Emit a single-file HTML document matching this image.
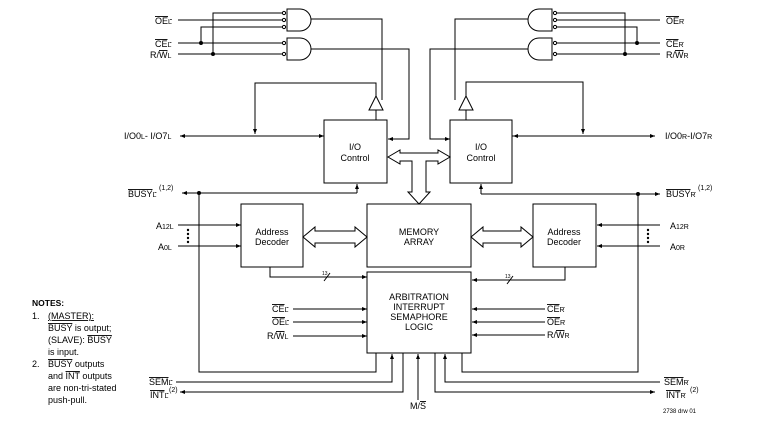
<!DOCTYPE html>
<html><head><style>
body{margin:0;background:#fff}
svg{display:block}
text{font-family:"Liberation Sans",sans-serif;fill:#000}
.ov{text-decoration:overline}
</style></head><body>
<svg width="764" height="438" viewBox="0 0 764 438" xmlns="http://www.w3.org/2000/svg" font-size="9">
<defs>
<marker id="a" viewBox="0 0 10 10" refX="10" refY="5" markerWidth="6" markerHeight="5" orient="auto"><path d="M0,1 L10,5 L0,9 z" fill="#000"/></marker>
</defs>
<g stroke="#000" stroke-width="1" fill="none">
<path d="M287,9 H300 A11,11 0 0 1 300,31 H287 Z"/>
<path d="M287,38 H300 A11,11 0 0 1 300,60 H287 Z"/>
<circle cx="284" cy="13" r="1.6"/><circle cx="284" cy="20" r="1.6"/><circle cx="284" cy="27" r="1.6"/>
<circle cx="284" cy="43" r="1.6"/><circle cx="284" cy="54" r="1.6"/>
<path d="M178,20 H282 M178,43 H282 M178,54 H282 M213,54 V13 H282 M201,43 V27 H282"/>
<path d="M311,19 H382 V100"/>
<path d="M311,49 H409 V139 H388" marker-end="url(#a)"/>
<path d="M369,110 L376,96 L383,110 Z"/>
<path d="M376,96 V83 H255 V134" marker-end="url(#a)"/>
<path d="M376,110 V120"/>
<path d="M324,136 H180" marker-end="url(#a)"/>
<path d="M255,136 H324" marker-end="url(#a)"/>
<rect x="324" y="120" width="63" height="63"/>
<path d="M357,193 V184" marker-end="url(#a)"/>
<path d="M357,193 H182" marker-end="url(#a)"/>
<path d="M552,9 H539 A11,11 0 0 0 539,31 H552 Z"/>
<path d="M552,38 H539 A11,11 0 0 0 539,60 H552 Z"/>
<circle cx="555" cy="13" r="1.6"/><circle cx="555" cy="20" r="1.6"/><circle cx="555" cy="27" r="1.6"/>
<circle cx="555" cy="43" r="1.6"/><circle cx="555" cy="54" r="1.6"/>
<path d="M557,20 H660 M557,43 H660 M557,54 H660 M625,54 V13 H557 M637,43 V27 H557"/>
<path d="M528,19 H455 V100"/>
<path d="M528,49 H430 V139 H450" marker-end="url(#a)"/>
<path d="M459,110 L466,96 L473,110 Z"/>
<path d="M466,96 V82 H583 V134" marker-end="url(#a)"/>
<path d="M466,110 V120"/>
<path d="M512,136 H655" marker-end="url(#a)"/>
<path d="M583,136 H513" marker-end="url(#a)"/>
<rect x="450" y="120" width="62" height="63"/>
<path d="M481,194 V184" marker-end="url(#a)"/>
<path d="M481,194 H660" marker-end="url(#a)"/>
<path d="M388,157 L400,150 V153 H438 V150 L450,157 L438,164 V161 H426 V192 H430 L419,204 L408,192 H412 V161 H400 V164 Z"/>
<path d="M303,237 L315,227 V231 H355 V227 L367,237 L355,247 V243 H315 V247 Z"/>
<path d="M471,237 L483,227 V231 H521 V227 L533,237 L521,247 V243 H483 V247 Z"/>
<rect x="367" y="204" width="104" height="63"/>
<rect x="367" y="272" width="104" height="81"/>
<rect x="241" y="204" width="62" height="63"/>
<rect x="533" y="204" width="63" height="63"/>
<path d="M178,225 H241" marker-end="url(#a)"/>
<path d="M178,246 H241" marker-end="url(#a)"/>
<path d="M660,225 H597" marker-end="url(#a)"/>
<path d="M660,246 H597" marker-end="url(#a)"/>
<path d="M270,267 V277 H367" marker-end="url(#a)"/>
<path d="M565,267 V280 H472" marker-end="url(#a)"/>
<path d="M324,281 L330,273 M507,284 L513,276"/>
<path d="M293,309 H367" marker-end="url(#a)"/>
<path d="M293,322 H367" marker-end="url(#a)"/>
<path d="M293,336 H367" marker-end="url(#a)"/>
<path d="M545,309 H472" marker-end="url(#a)"/>
<path d="M545,322 H472" marker-end="url(#a)"/>
<path d="M545,335 H472" marker-end="url(#a)"/>
<path d="M199,193 V372 H376 V353"/>
<path d="M638,194 V372 H462 V353"/>
<path d="M176,382 H392 V354" marker-end="url(#a)"/>
<path d="M403,353 V392 H180" marker-end="url(#a)"/>
<path d="M418,400 V354" marker-end="url(#a)"/>
<path d="M435,353 V392 H655" marker-end="url(#a)"/>
<path d="M660,382 H445 V354" marker-end="url(#a)"/>
</g>
<g fill="#000">
<circle cx="213" cy="54" r="2"/><circle cx="201" cy="43" r="2"/>
<circle cx="625" cy="54" r="2"/><circle cx="637" cy="43" r="2"/>
<circle cx="199" cy="193" r="2"/><circle cx="638" cy="194" r="2"/>
<circle cx="188" cy="230" r="1.2"/><circle cx="188" cy="234" r="1.2"/><circle cx="188" cy="238" r="1.2"/><circle cx="188" cy="242" r="1.2"/>
<circle cx="648" cy="230" r="1.2"/><circle cx="648" cy="234" r="1.2"/><circle cx="648" cy="238" r="1.2"/><circle cx="648" cy="242" r="1.2"/>
</g>
<text x="155" y="24" class="ov">OE<tspan font-size="7">L</tspan></text>
<text x="155" y="47" class="ov">CE<tspan font-size="7">L</tspan></text>
<text x="150" y="58">R/<tspan class="ov">W</tspan><tspan font-size="7">L</tspan></text>
<text x="666" y="24" class="ov">OE<tspan font-size="7">R</tspan></text>
<text x="666" y="47" class="ov">CE<tspan font-size="7">R</tspan></text>
<text x="666" y="58">R/<tspan class="ov">W</tspan><tspan font-size="7">R</tspan></text>
<text x="124" y="139">I/O0<tspan font-size="7">L</tspan>- I/O7<tspan font-size="7">L</tspan></text>
<text x="665" y="139">I/O0<tspan font-size="7">R</tspan>-I/O7<tspan font-size="7">R</tspan></text>
<text x="355" y="150" text-anchor="middle">I/O</text>
<text x="355" y="161" text-anchor="middle">Control</text>
<text x="481" y="150" text-anchor="middle">I/O</text>
<text x="481" y="161" text-anchor="middle">Control</text>
<text x="128" y="197" class="ov">BUSY<tspan font-size="7">L</tspan></text>
<text x="159" y="190" font-size="7">(1,2)</text>
<text x="666" y="197" class="ov">BUSY<tspan font-size="7">R</tspan></text>
<text x="698" y="190" font-size="7">(1,2)</text>
<text x="272" y="235" text-anchor="middle">Address</text>
<text x="272" y="245" text-anchor="middle">Decoder</text>
<text x="564" y="235" text-anchor="middle">Address</text>
<text x="564" y="245" text-anchor="middle">Decoder</text>
<text x="419" y="235" text-anchor="middle">MEMORY</text>
<text x="419" y="245" text-anchor="middle">ARRAY</text>
<text x="419" y="300" text-anchor="middle">ARBITRATION</text>
<text x="419" y="310" text-anchor="middle">INTERRUPT</text>
<text x="419" y="320" text-anchor="middle">SEMAPHORE</text>
<text x="419" y="330" text-anchor="middle">LOGIC</text>
<text x="156" y="229">A<tspan font-size="7">12L</tspan></text>
<text x="158" y="250">A<tspan font-size="7">0L</tspan></text>
<text x="670" y="229">A<tspan font-size="7">12R</tspan></text>
<text x="670" y="250">A<tspan font-size="7">0R</tspan></text>
<text x="322" y="275" font-size="5">13</text>
<text x="505" y="278" font-size="5">13</text>
<text x="272" y="312" class="ov">CE<tspan font-size="7">L</tspan></text>
<text x="272" y="325" class="ov">OE<tspan font-size="7">L</tspan></text>
<text x="267" y="339">R/<tspan class="ov">W</tspan><tspan font-size="7">L</tspan></text>
<text x="547" y="312" class="ov">CE<tspan font-size="7">R</tspan></text>
<text x="547" y="325" class="ov">OE<tspan font-size="7">R</tspan></text>
<text x="547" y="338">R/<tspan class="ov">W</tspan><tspan font-size="7">R</tspan></text>
<text x="149" y="385" class="ov">SEM<tspan font-size="7">L</tspan></text>
<text x="150" y="398" class="ov">INT<tspan font-size="7">L</tspan></text>
<text x="169" y="392" font-size="7">(2)</text>
<text x="664" y="385" class="ov">SEM<tspan font-size="7">R</tspan></text>
<text x="666" y="398" class="ov">INT<tspan font-size="7">R</tspan></text>
<text x="690" y="392" font-size="7">(2)</text>
<text x="410" y="409">M/<tspan class="ov">S</tspan></text>
<text x="663" y="413" font-size="6">2738 drw 01</text>
<text x="32" y="306" font-weight="bold" font-size="8.5">NOTES:</text>
<text x="32" y="319">1.</text>
<text x="48" y="319" text-decoration="underline">(MASTER):</text>
<text x="48" y="331"><tspan class="ov">BUSY</tspan> is output;</text>
<text x="48" y="343">(SLAVE): <tspan class="ov">BUSY</tspan></text>
<text x="48" y="355">is input.</text>
<text x="32" y="367">2.</text>
<text x="48" y="367"><tspan class="ov">BUSY</tspan> outputs</text>
<text x="48" y="379">and <tspan class="ov">INT</tspan> outputs</text>
<text x="48" y="391">are non-tri-stated</text>
<text x="48" y="403">push-pull.</text>
</svg>
</body></html>
